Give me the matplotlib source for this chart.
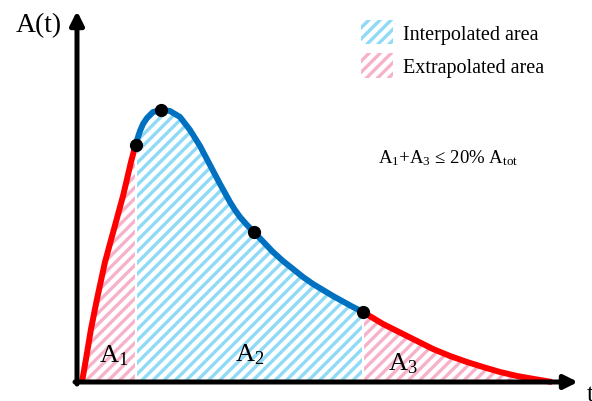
import matplotlib
matplotlib.use("Agg")
import matplotlib.pyplot as plt
from matplotlib.patches import Patch

plt.rcParams['font.family'] = ['Liberation Serif', 'DejaVu Serif']
plt.rcParams['mathtext.fontset'] = 'custom'
plt.rcParams['mathtext.rm'] = 'Liberation Serif'
plt.rcParams['mathtext.it'] = 'Liberation Serif'
plt.rcParams['hatch.linewidth'] = 2.4

# curve: t along x, A(t) along y
t_head = [5, 9, 14, 20, 28, 37, 46, 54, 58.5]
a_head = [0, 23, 53, 83, 120, 153, 186, 220, 237]
t_mid = [58.5, 61, 63, 66, 70, 76, 84, 93, 103, 113, 123, 133, 143, 148, 153,
         158, 163, 170, 177, 186, 196, 206, 216, 226, 236, 246, 256, 266, 276, 286]
a_mid = [237, 245, 251, 258, 264, 270, 272, 271, 265, 252, 236, 217, 198, 189,
         180, 172, 165, 157, 150, 140.5, 130, 121, 113, 105, 98, 92, 86, 80.5, 75, 70]
t_tail = [286, 296, 306, 322, 340, 356, 373, 390, 406, 423, 440, 457, 475]
a_tail = [70, 64, 58, 50, 41, 33, 26, 20, 15, 10, 6, 3, 0]
t_marks = [58.5, 84, 177, 286]
a_marks = [237, 272, 150, 70]

blue = '#0070c0'
red = '#ff0000'
hatch_blue = '#8fdaf6'
hatch_pink = '#f7b2cb'

fig = plt.figure(figsize=(5.92, 4.02), dpi=100)
ax = fig.add_axes([0, 0, 1, 1])
ax.set_xlim(-77, 515)
ax.set_ylim(-19, 383)
ax.axis('off')

# hatched areas
ax.fill_between(t_head, a_head, 0, facecolor='white', edgecolor=hatch_pink,
                hatch='///', linewidth=0, zorder=1)
ax.fill_between(t_mid, a_mid, 0, facecolor='white', edgecolor=hatch_blue,
                hatch='///', linewidth=0, zorder=1)
ax.fill_between(t_tail, a_tail, 0, facecolor='white', edgecolor=hatch_pink,
                hatch='///', linewidth=0, zorder=1)
ax.vlines([t_mid[0], t_mid[-1]], 0, [a_mid[0], a_mid[-1]], color='white',
          linewidth=1.5, zorder=2)

# curve
ax.plot(t_head, a_head, color=red, linewidth=4.3, solid_capstyle='butt',
        solid_joinstyle='round', zorder=3)
ax.plot(t_tail, a_tail, color=red, linewidth=4.3, solid_capstyle='butt',
        solid_joinstyle='round', zorder=3)
ax.plot(t_mid, a_mid, color=blue, linewidth=4.3, solid_capstyle='round',
        solid_joinstyle='round', zorder=3)
ax.plot(t_marks, a_marks, 'o', color='black', markersize=8.5, zorder=4)

# axes with arrows
arrow = dict(arrowstyle='-|>,head_length=0.8,head_width=0.4', color='black',
             linewidth=3.6, shrinkA=0, shrinkB=0)
ax.annotate('', xy=(0, 371), xytext=(0, -2), arrowprops=arrow, zorder=5)
ax.annotate('', xy=(501, 0), xytext=(-2, 0), arrowprops=arrow, zorder=5)
ax.text(-38, 357, 'A(t)', fontsize=20, ha='center', va='center')
ax.text(510, -12, 't', fontsize=18, ha='left', va='center')

# area labels
ax.text(37, 27, r'A$_\mathrm{1}$', fontsize=19, ha='center', va='center')
ax.text(173, 28, r'A$_\mathrm{2}$', fontsize=19, ha='center', va='center')
ax.text(326, 19, r'A$_\mathrm{3}$', fontsize=19, ha='center', va='center')

ax.text(301, 225, r'A$_\mathrm{1}$+A$_\mathrm{3}$ ≤ 20% A$_\mathrm{tot}$',
        fontsize=13.5, ha='left', va='center')

handles = [Patch(facecolor='white', edgecolor=hatch_blue, hatch='///', linewidth=0),
           Patch(facecolor='white', edgecolor=hatch_pink, hatch='///', linewidth=0)]
ax.legend(handles, ['Interpolated area', 'Extrapolated area'], loc='upper left',
          bbox_to_anchor=(0.61, 0.948), frameon=False, fontsize=14.5,
          handlelength=1.59, handleheight=1.49, handletextpad=0.5,
          labelspacing=0.45, borderpad=0, borderaxespad=0)

fig.savefig('out.png', dpi=100)
